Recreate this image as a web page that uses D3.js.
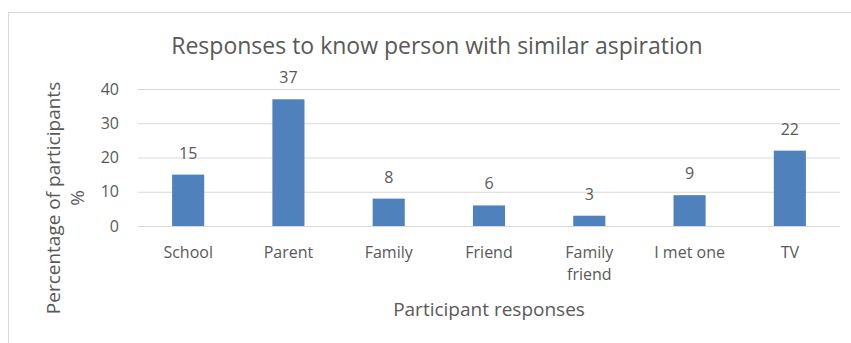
<!DOCTYPE html>
<html>
<head>
<meta charset="utf-8">
<script src="https://cdn.jsdelivr.net/npm/d3@7"></script>
<style>
  body { margin: 0; background: #fff; }
  text { font-family: "Open Sans", sans-serif; fill: #595959; }
</style>
</head>
<body>
<div id="chart"></div>
<script>
// data
var categories = ["School", "Parent", "Family", "Friend", "Family friend", "I met one", "TV"];
var values = [15, 37, 8, 6, 3, 9, 22];
var yTicks = [0, 10, 20, 30, 40];

// setup
var width = 851, height = 343;
var plot = { left: 138, right: 840, top: 89, bottom: 226 };

var svg = d3.select("#chart").append("svg")
    .attr("width", width)
    .attr("height", height);

// chart frame
svg.append("rect")
    .attr("x", 8.5).attr("y", 12.5)
    .attr("width", 860).attr("height", 360)
    .attr("fill", "none")
    .attr("stroke", "#d9d9d9");

var xScale = d3.scaleBand()
    .domain(categories)
    .range([plot.left, plot.right])
    .paddingInner(0.68)
    .paddingOuter(0.34);

var yScale = d3.scaleLinear()
    .domain([0, 40])
    .range([plot.bottom, plot.top]);

// gridlines + y labels
var yAxis = svg.append("g")
    .attr("transform", "translate(" + plot.left + ",0)")
    .call(d3.axisLeft(yScale).tickValues(yTicks).tickSize(-(plot.right - plot.left)).tickPadding(19));
yAxis.select(".domain").remove();
yAxis.selectAll(".tick line").attr("stroke", "#d9d9d9");
yAxis.selectAll(".tick text")
    .style("font-size", "16px")
    .attr("fill", "#595959");

// bars
svg.selectAll("rect.bar").data(values)
    .enter().append("rect")
    .attr("class", "bar")
    .attr("x", function (d, i) { return xScale(categories[i]); })
    .attr("width", xScale.bandwidth())
    .attr("y", function (d) { return yScale(d); })
    .attr("height", function (d) { return yScale(0) - yScale(d); })
    .attr("fill", "#4f81bd");

// value labels
svg.selectAll("text.val").data(values)
    .enter().append("text")
    .attr("class", "val")
    .attr("x", function (d, i) { return xScale(categories[i]) + xScale.bandwidth() / 2; })
    .attr("y", function (d) { return yScale(d) - 16; })
    .attr("text-anchor", "middle")
    .style("font-size", "16px")
    .text(function (d) { return d; });

// category labels (wrap two-word label)
var catLabels = svg.selectAll("text.cat").data(categories)
    .enter().append("text")
    .attr("class", "cat")
    .attr("text-anchor", "middle")
    .style("font-size", "16px")
    .attr("transform", function (d) {
        return "translate(" + (xScale(d) + xScale.bandwidth() / 2) + ",258)";
    });
catLabels.each(function (d) {
    var lines = d === "Family friend" ? ["Family", "friend"] : [d];
    var t = d3.select(this);
    lines.forEach(function (l, k) {
        t.append("tspan").attr("x", 0).attr("y", k * 22).text(l);
    });
});

// title
svg.append("text")
    .attr("x", 437).attr("y", 54)
    .attr("text-anchor", "middle")
    .style("font-size", "23px")
    .text("Responses to know person with similar aspiration");

// x axis title
svg.append("text")
    .attr("x", 489).attr("y", 316)
    .attr("text-anchor", "middle")
    .style("font-size", "19px")
    .text("Participant responses");

// y axis title
var yTitle = svg.append("text")
    .attr("transform", "translate(60,198) rotate(-90)")
    .attr("text-anchor", "middle")
    .style("font-size", "19px");
yTitle.append("tspan").attr("x", 0).attr("y", 0).text("Percentage of participants");
yTitle.append("tspan").attr("x", 0).attr("y", 24).text("%");
</script>
</body>
</html>
